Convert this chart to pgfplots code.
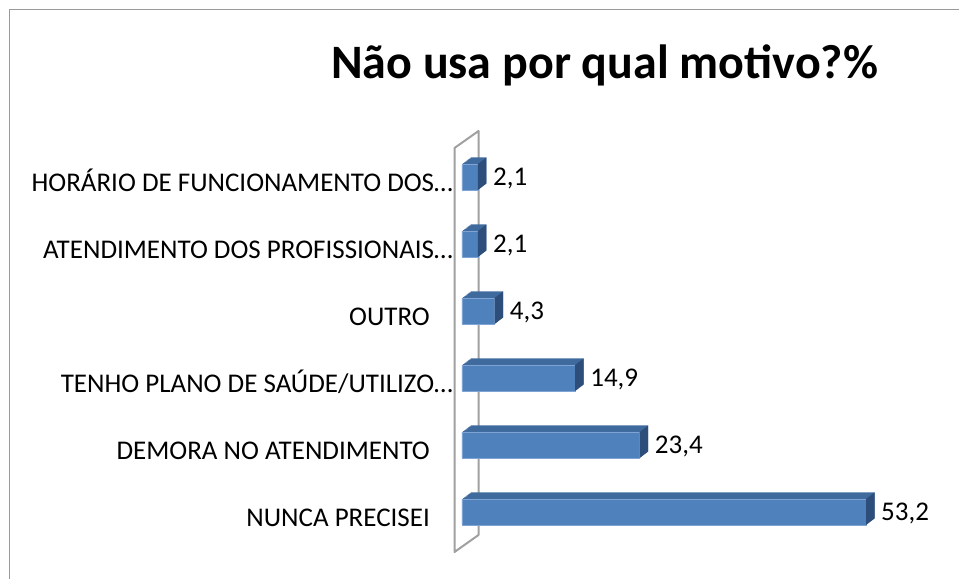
\documentclass[border=0pt]{standalone}
\usepackage{fontspec}
\setmainfont{Carlito}
\usepackage{pgfplots}
\pgfplotsset{compat=1.18}
\usepackage{pgfplotstable}
\definecolor{frontc}{HTML}{4F81BD}
\definecolor{topc}{HTML}{3F6A9E}
\definecolor{sidec}{HTML}{2D4E7A}
\definecolor{edgec}{HTML}{7FA3D3}
\definecolor{wallc}{HTML}{A0A0A0}
\definecolor{framec}{HTML}{9A9A9A}
\newcommand{\labfont}{\fontsize{27bp}{31bp}\selectfont}
\pgfdeclareplotmark{sideface}{%
  \pgfpathmoveto{\pgfqpoint{0bp}{-13bp}}%
  \pgfpathlineto{\pgfqpoint{0bp}{13bp}}%
  \pgfpathlineto{\pgfqpoint{8.5bp}{19.5bp}}%
  \pgfpathlineto{\pgfqpoint{8.5bp}{-6.5bp}}%
  \pgfpathclose
  \pgfusepath{fill}%
}
\pgfplotstableread{
y val
0 53.2
1 23.4
2 14.9
3 4.3
4 2.1
5 2.1
}\data
\begin{document}
\begin{tikzpicture}
\useasboundingbox (0,0) rectangle (959bp,579bp);
% chart frame
\draw[framec, line width=1.8bp] (9.5bp,-2bp) -- (9.5bp,569.5bp) -- (962bp,569.5bp);
% title
\node[anchor=base, inner sep=0pt, font=\fontsize{48bp}{53bp}\selectfont\bfseries] at (604.5bp,500bp) {Não usa por qual motivo?\%};
% 3D wall
\draw[wallc, line width=2bp, line join=round] (454.5bp,27bp) -- (454.5bp,431bp) -- (478.5bp,448bp) -- (478.5bp,44bp) -- cycle;
\begin{axis}[
  at={(462bp,33.5bp)}, anchor=south west,
  scale only axis,
  x=7.594bp, y=67bp,
  xmin=0, xmax=60, ymin=-0.5, ymax=5.5,
  axis line style={draw=none},
  xtick=\empty,
  ytick={0,1,2,3,4,5},
  yticklabels={{NUNCA PRECISEI\hspace*{23bp}},{DEMORA NO ATENDIMENTO\hspace*{23bp}},{TENHO PLANO DE SAÚDE/UTILIZO…},{OUTRO\hspace*{23bp}},{ATENDIMENTO DOS PROFISSIONAIS…},{HORÁRIO DE FUNCIONAMENTO DOS…}},
  yticklabel style={font=\labfont, anchor=base east, inner sep=0pt, xshift=-9bp, yshift=-14.5bp},
  major tick length=0pt,
  clip=false,
  /pgf/number format/assume math mode=true,
]
\pgfplotsinvokeforeach{1,2,3,4,5,6,7,8}{
  \addplot[xbar, bar shift=0pt, bar width=26bp, fill=topc, draw=none, xshift={#1*1.0625bp}, yshift={#1*0.8125bp}] table[x=val,y=y]{\data};
}
\addplot[xbar, bar shift=0pt, bar width=26bp, fill=frontc, draw=edgec, line width=0.6bp] table[x=val,y=y]{\data};
\addplot[only marks, mark=sideface, color=sidec, point meta=x,
  nodes near coords={\pgfmathprintnumber[fixed, fixed zerofill, precision=1, use comma]{\pgfplotspointmeta}},
  every node near coord/.append style={anchor=base west, inner sep=0pt, xshift=15bp, yshift=-8.7bp, font=\labfont, text=black}]
  table[x=val,y=y]{\data};
\end{axis}
\end{tikzpicture}
\end{document}
